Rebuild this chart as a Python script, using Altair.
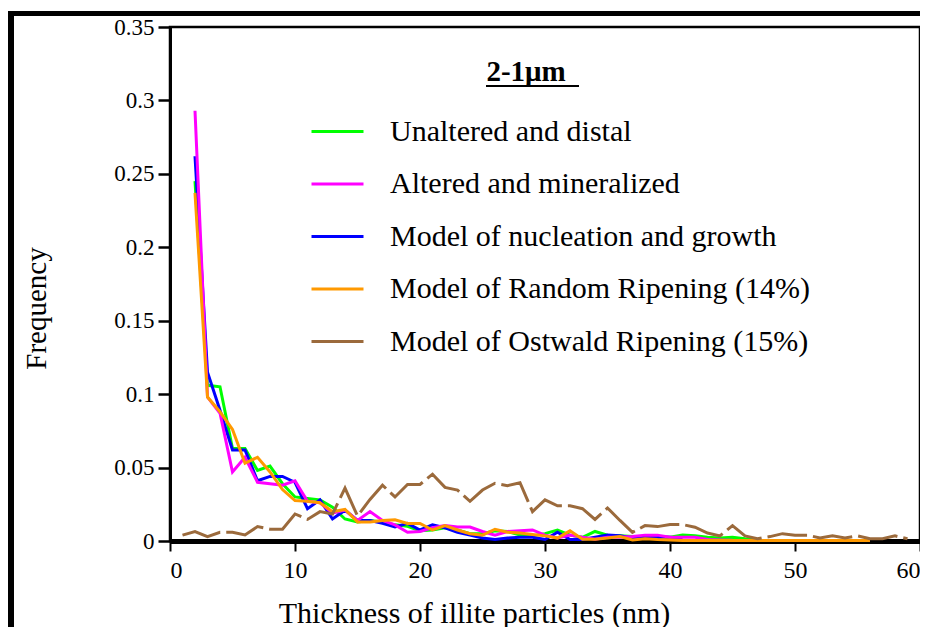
import altair as alt
import pandas as pd

names = [
    "Unaltered and distal",
    "Altered and mineralized",
    "Model of nucleation and growth",
    "Model of Random Ripening (14%)",
    "Model of Ostwald Ripening (15%)",
]
colors = ["#00ff00", "#ff00ff", "#0000ff", "#ff9900", "#9b6a3c"]

green_x = list(range(2, 48))
green_y = [0.245, 0.106, 0.105, 0.063, 0.063, 0.048, 0.051, 0.039, 0.030, 0.029,
           0.028, 0.023, 0.015, 0.013, 0.014, 0.013, 0.011, 0.010, 0.007, 0.0075,
           0.009, 0.0075, 0.005, 0.005, 0.007, 0.0065, 0.004, 0.0035, 0.005, 0.0075,
           0.004, 0.0025, 0.0065, 0.004, 0.0035, 0.003, 0.0025, 0.003, 0.0025, 0.004,
           0.0035, 0.0025, 0.002, 0.0025, 0.0015, 0.001]

magenta_x = list(range(2, 46))
magenta_y = [0.293, 0.098, 0.087, 0.047, 0.057, 0.040, 0.039, 0.038, 0.041, 0.027,
             0.026, 0.019, 0.021, 0.014, 0.020, 0.014, 0.011, 0.006, 0.0065, 0.009,
             0.0105, 0.0095, 0.0095, 0.0065, 0.004, 0.0065, 0.007, 0.0075, 0.004, 0.002,
             0.004, 0.0025, 0.0012, 0.0025, 0.0025, 0.003, 0.004, 0.004, 0.0025, 0.0025,
             0.0025, 0.001, 0.0007, 0.0005]

blue_x = list(range(2, 42))
blue_y = [0.262, 0.115, 0.089, 0.062, 0.062, 0.041, 0.044, 0.044, 0.040, 0.022,
          0.028, 0.015, 0.021, 0.014, 0.014, 0.012, 0.0095, 0.012, 0.0075, 0.011,
          0.009, 0.006, 0.004, 0.002, 0.001, 0.002, 0.0025, 0.0025, 0.001, 0.006,
          0.001, 0.001, 0.0025, 0.004, 0.0035, 0.002, 0.0025, 0.0025, 0.0025, 0.0015]

orange_x = list(range(2, 57))
orange_y = [0.237, 0.098, 0.088, 0.076, 0.053, 0.057, 0.047, 0.035, 0.0275, 0.027,
            0.026, 0.020, 0.0215, 0.013, 0.013, 0.014, 0.0145, 0.012, 0.012, 0.0075,
            0.0105, 0.0075, 0.005, 0.004, 0.008, 0.006, 0.0055, 0.0045, 0.0035, 0.002,
            0.007, 0.0012, 0.0012, 0.002, 0.003, 0.0007, 0.0015, 0.001, 0.0007, 0.0004,
            0.0004, 0.0004, 0.0004, 0.0004, 0.0004, 0.0004, 0.0004, 0.0004, 0.0004, 0.0004,
            0.0004, 0.0004, 0.0004, 0.0004, 0.0004]

brown_x = list(range(1, 60))
brown_y = [0.004, 0.0064, 0.0029, 0.0059, 0.0059, 0.0041, 0.0098, 0.008, 0.008, 0.0184,
           0.0147, 0.020, 0.0184, 0.036, 0.017, 0.0283, 0.038, 0.030, 0.0385, 0.0385,
           0.0455, 0.0365, 0.0347, 0.027, 0.0347, 0.0393, 0.0377, 0.0397, 0.020, 0.028,
           0.024, 0.024, 0.022, 0.0147, 0.0225, 0.014, 0.0059, 0.0105, 0.0098, 0.0112,
           0.0112, 0.0094, 0.0054, 0.0035, 0.0105, 0.0035, 0.0015, 0.003, 0.005, 0.004,
           0.004, 0.002, 0.0035, 0.002, 0.0035, 0.0015, 0.0015, 0.0035, 0.0015]

x_ticks = [0, 10, 20, 30, 40, 50, 60]
y_ticks = [0, 0.05, 0.1, 0.15, 0.2, 0.25, 0.3, 0.35]

solid_sets = [
    (names[0], green_x, green_y),
    (names[2], blue_x, blue_y),
    (names[1], magenta_x, magenta_y),
    (names[3], orange_x, orange_y),
]
rows = []
for nm, xs, ys in solid_sets:
    rows += [{"series": nm, "thickness": a, "frequency": b} for a, b in zip(xs, ys)]
solid_df = pd.DataFrame(rows)
brown_df = pd.DataFrame({"series": names[4], "thickness": brown_x, "frequency": brown_y})

FONT = "Liberation Serif"

x_enc = alt.X(
    "thickness:Q",
    title="Thickness of illite particles (nm)",
    scale=alt.Scale(domain=[0, 60], nice=False),
    axis=alt.Axis(
        values=x_ticks, format="d", grid=False,
        labelFont=FONT, labelFontSize=24, labelColor="black", labelPadding=7,
        tickColor="black", tickSize=10, tickWidth=2,
        domainColor="black", domainWidth=5,
        titleFont=FONT, titleFontSize=30, titleFontWeight="normal", titleColor="black",
        titleX=304, titleY=81, titleBaseline="alphabetic", titleAlign="center",
    ),
)
y_enc = alt.Y(
    "frequency:Q",
    title="Frequency",
    scale=alt.Scale(domain=[0, 0.35], nice=False, zero=True),
    axis=alt.Axis(
        values=y_ticks, format="~g", grid=False,
        labelFont=FONT, labelFontSize=23, labelColor="black", labelPadding=4,
        tickColor="black", tickSize=12, tickWidth=2.5,
        domainColor="black", domainWidth=3,
        titleFont=FONT, titleFontSize=29, titleFontWeight="normal", titleColor="black",
        titleX=-125, titleY=281, titleBaseline="alphabetic", titleAlign="center",
    ),
)
legend = alt.Legend(
    title=None, orient="none", legendX=140, legendY=77,
    symbolType="stroke", symbolSize=2704, symbolStrokeWidth=3, symbolDash=[60, 0],
    labelFont=FONT, labelFontSize=30, labelColor="black", labelOffset=25,
    labelLimit=800, rowPadding=9.5, padding=0,
)
color_enc = alt.Color("series:N", scale=alt.Scale(domain=names, range=colors), legend=legend)

lines = alt.Chart(solid_df).mark_line(strokeWidth=3).encode(x=x_enc, y=y_enc, color=color_enc)
brown = alt.Chart(brown_df).mark_line(strokeWidth=3, color=colors[4]).encode(
    x=x_enc, y=y_enc, detail="series:N", strokeDash=alt.value([40, 6])
)

one = pd.DataFrame({"k": [0]})
title_txt = alt.Chart(one).mark_text(
    text="2-1μm", font=FONT, fontWeight="bold", fontSize=29, align="center",
    baseline="alphabetic", color="black",
).encode(x=alt.value(356), y=alt.value(54))
underline = alt.Chart(one).mark_rule(color="black", strokeWidth=2).encode(
    x=alt.value(316), x2=alt.value(409), y=alt.value(59)
)
frame_left = alt.Chart(one).mark_rule(color="black", strokeWidth=6).encode(
    x=alt.value(-159), y=alt.value(-16), y2=alt.value(640)
)
frame_top = alt.Chart(one).mark_rule(color="black", strokeWidth=5).encode(
    x=alt.value(-162), x2=alt.value(770), y=alt.value(-13.5)
)

chart = (
    alt.layer(lines, brown, title_txt, underline, frame_left, frame_top)
    .properties(
        width=750, height=514,
        padding={"left": 162, "top": 19, "right": 0, "bottom": 86},
        autosize=alt.AutoSizeParams(type="none"),
    )
    .configure_view(stroke="black", strokeWidth=2.5)
)

chart.save("out.html", embed_options={"renderer": "svg", "actions": False})
